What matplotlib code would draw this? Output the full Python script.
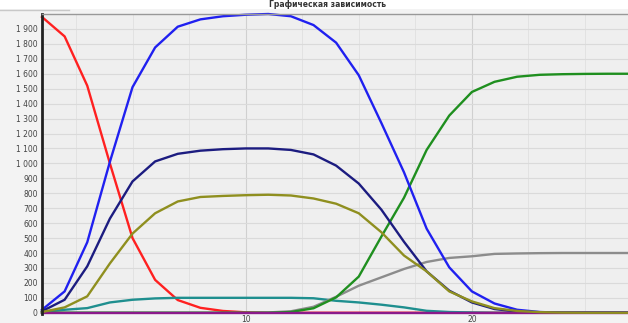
import matplotlib
matplotlib.use("Agg")
import matplotlib.pyplot as plt
from matplotlib.patches import Rectangle
from matplotlib.lines import Line2D
import numpy as np

# x steps 1..27
x = np.arange(1, 28)

red = [1980, 1850, 1520, 1000, 500, 220, 85, 33, 12, 3, 0, 0, 0, 0, 0, 0, 0, 0, 0, 0, 0, 0, 0, 0, 0, 0, 0]
blue = [20, 143, 472, 1010, 1510, 1776, 1915, 1964, 1985, 1995, 2000, 1985, 1926, 1808, 1590, 1270, 940,
        563, 304, 143, 62, 20, 5, 0, 0, 0, 0]
navy = [10, 87, 311, 630, 879, 1013, 1064, 1085, 1095, 1100, 1100, 1090, 1060, 985, 865, 690, 475,
        277, 148, 69, 25, 8, 2, 0, 0, 0, 0]
olive = [5, 36, 110, 330, 530, 666, 745, 775, 782, 787, 790, 785, 765, 730, 666, 539, 383,
         277, 143, 76, 31, 12, 4, 1, 0, 0, 0]
green = [0] * 11 + [5, 30, 103, 242, 510, 770, 1090, 1320, 1478, 1546, 1580, 1593, 1597, 1599, 1600, 1600]
gray = [0] * 10 + [2, 10, 40, 107, 181, 237, 293, 340, 367, 378, 394, 397, 399, 400, 400, 400, 400]
teal = [3, 20, 31, 69, 87, 96, 100, 100, 100, 100, 100, 100, 97, 80, 69, 54, 36, 13, 5, 2, 0, 0, 0, 0, 0, 0, 0]
purple = [0] * 27

# drawing order: purple covers the zero tails, olive stays on top
series = [
    (red, "#ff2020"),
    (teal, "#1f8f8f"),
    (gray, "#8c8c8c"),
    (green, "#1f8f1f"),
    (blue, "#2020f0"),
    (navy, "#1c1c80"),
    (purple, "#8a1a8a"),
    (olive, "#8f8f1f"),
]

yticks = np.arange(0, 2000, 100)
xticks = [10, 20]
title = "Графическая зависимость"

fig = plt.figure(figsize=(6.28, 3.23), dpi=100, facecolor="#f3f3f3")
ax = fig.add_axes([42 / 628, 1 - 313.5 / 323, 1 - 42 / 628, (313.5 - 14) / 323])
ax.set_facecolor("#efefef")

# white band at the very top with the small title
fig.add_artist(Rectangle((0, 1 - 9 / 323), 1, 9 / 323, transform=fig.transFigure,
                         facecolor="white", edgecolor="none"))
fig.add_artist(Line2D([0, 0.11], [1 - 9.5 / 323] * 2, transform=fig.transFigure,
                      color="#c8c8c8", lw=1))
fig.text(0.522, 1 - 4.5 / 323, title, ha="center", va="center", fontsize=5.5,
         fontweight="bold", color="#333333")

for vals, col in series:
    ax.plot(x, vals, color=col, lw=1.7, clip_on=False, solid_joinstyle="round")

ax.set_xlim(1, 26.9)
ax.set_ylim(-5, 2000)

ax.set_yticks(yticks)
ax.set_yticklabels([f"{v:,}".replace(",", " ") for v in yticks])
ax.set_xticks(xticks)
ax.set_xticks(np.arange(2.5, 27, 2.5), minor=True)
ax.tick_params(axis="both", which="both", length=0, labelsize=5.5, labelcolor="#444444")
ax.tick_params(axis="y", pad=3)
ax.tick_params(axis="x", pad=1)

ax.grid(axis="y", color="#dadada", lw=0.8)
ax.grid(axis="x", which="major", color="#d0d0d0", lw=0.8)
ax.grid(axis="x", which="minor", color="#e2e2e2", lw=0.7)
ax.set_axisbelow(True)

for s in ["right", "bottom"]:
    ax.spines[s].set_visible(False)
ax.spines["left"].set_color("#222222")
ax.spines["left"].set_linewidth(2)
ax.spines["top"].set_color("#999999")
ax.spines["top"].set_linewidth(1)

fig.savefig("out.png", dpi=100, facecolor=fig.get_facecolor())
